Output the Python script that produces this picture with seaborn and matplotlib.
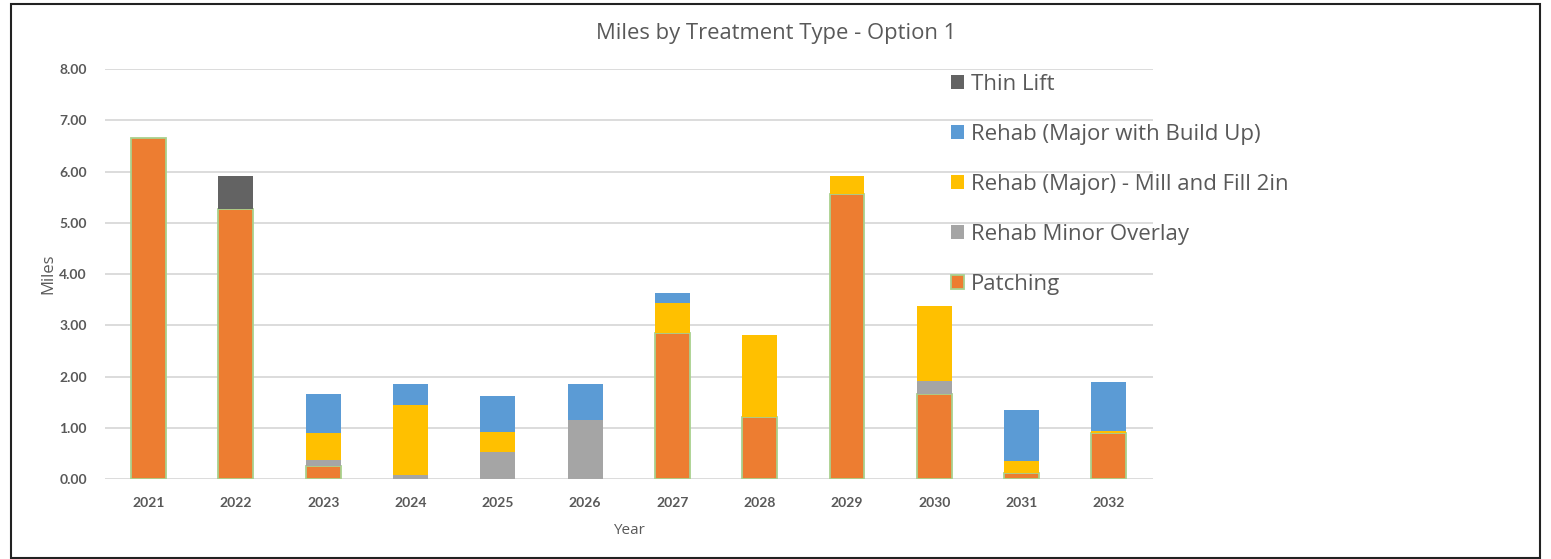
import pandas as pd
import matplotlib.pyplot as plt
import seaborn as sns
from matplotlib.patches import Patch, Rectangle

# Chart data (miles per treatment, per year)
years = [2021, 2022, 2023, 2024, 2025, 2026, 2027, 2028, 2029, 2030, 2031, 2032]
patching = [6.65, 5.27, 0.25, 0.00, 0.00, 0.00, 2.86, 1.22, 5.57, 1.66, 0.13, 0.91]
minor_overlay = [0.00, 0.00, 0.13, 0.08, 0.54, 1.16, 0.00, 0.00, 0.00, 0.26, 0.00, 0.00]
mill_fill = [0.00, 0.00, 0.53, 1.36, 0.39, 0.00, 0.58, 1.60, 0.34, 1.45, 0.23, 0.03]
build_up = [0.00, 0.00, 0.76, 0.41, 0.70, 0.69, 0.20, 0.00, 0.00, 0.00, 0.99, 0.96]
thin_lift = [0.00, 0.65, 0.00, 0.00, 0.00, 0.00, 0.00, 0.00, 0.00, 0.00, 0.00, 0.00]

treatments = ['Thin Lift', 'Rehab (Major with Build Up)', 'Rehab (Major) - Mill and Fill 2in',
              'Rehab Minor Overlay', 'Patching']
colors = ['#636363', '#5B9BD5', '#FFC000', '#A5A5A5', '#ED7D31']

series = dict(zip(treatments, [thin_lift, build_up, mill_fill, minor_overlay, patching]))
df = pd.DataFrame([(y, t, v) for t, vals in series.items() for y, v in zip(years, vals)],
                  columns=['Year', 'Treatment', 'Miles'])

sns.set_style('white')
plt.rcParams['font.family'] = ['Open Sans', 'DejaVu Sans']
txt = '#595959'

fig = plt.figure(figsize=(15.51, 5.59), dpi=100)
ax = fig.add_axes([105 / 1551, 1 - 479.3 / 559, 1047.5 / 1551, 410.3 / 559])

# stacked bars: first hue level ends on top, last (Patching) at the bottom
sns.histplot(data=df, x='Year', weights='Miles', hue='Treatment', hue_order=treatments,
             multiple='stack', discrete=True, shrink=0.4, palette=colors, alpha=1,
             linewidth=0, legend=False, ax=ax, zorder=3)

for p in ax.patches:
    if p.get_height() <= 0:
        p.set_visible(False)
    elif abs(p.get_facecolor()[0] - 0xED / 255) < 0.01 and abs(p.get_facecolor()[1] - 0x7D / 255) < 0.01:
        p.set_edgecolor('#A9D18E')
        p.set_linewidth(1.3)

ax.set_ylim(0, 8)
ax.set_xlim(2020.5, 2032.5)
ax.set_xticks(years)
ax.set_xticklabels([str(y) for y in years])
ax.set_yticks([0, 1, 2, 3, 4, 5, 6, 7, 8])
ax.set_yticklabels([f'{v:.2f}' for v in range(9)])
ax.tick_params(length=0, labelcolor=txt, pad=13)
for lab in ax.get_xticklabels() + ax.get_yticklabels():
    lab.set_fontweight('bold')
    lab.set_fontfamily(['Lato', 'DejaVu Sans'])
    lab.set_fontsize(10)
ax.yaxis.grid(True, color='#D9D9D9', linewidth=1.3, zorder=0)
ax.set_axisbelow(True)
for s in ax.spines.values():
    s.set_visible(False)

ax.set_xlabel('Year', fontsize=11, color=txt, labelpad=10)
ax.set_ylabel('Miles', fontsize=12, color=txt, labelpad=2)

fig.text(776 / 1551, 1 - 33 / 559, 'Miles by Treatment Type - Option 1',
         ha='center', va='center', fontsize=15.8, color=txt)

handles = []
for t, c in zip(treatments, colors):
    if t == 'Patching':
        handles.append(Patch(facecolor=c, edgecolor='#A9D18E', linewidth=1.3))
    else:
        handles.append(Patch(facecolor=c, edgecolor='none'))
fig.legend(handles, treatments, loc='upper left', bbox_to_anchor=(951 / 1551, 1 - 74 / 559),
           frameon=False, fontsize=16, labelcolor=txt, handlelength=0.58, handleheight=0.58,
           handletextpad=0.3, labelspacing=1.3, borderpad=0, borderaxespad=0)

# outer chart border
fig.patches.append(Rectangle((11 / 1551, 1 - 558 / 559), 1529 / 1551, 554 / 559,
                             transform=fig.transFigure, fill=False, edgecolor='#222222',
                             linewidth=1.5))

fig.savefig('out.png', dpi=100)
